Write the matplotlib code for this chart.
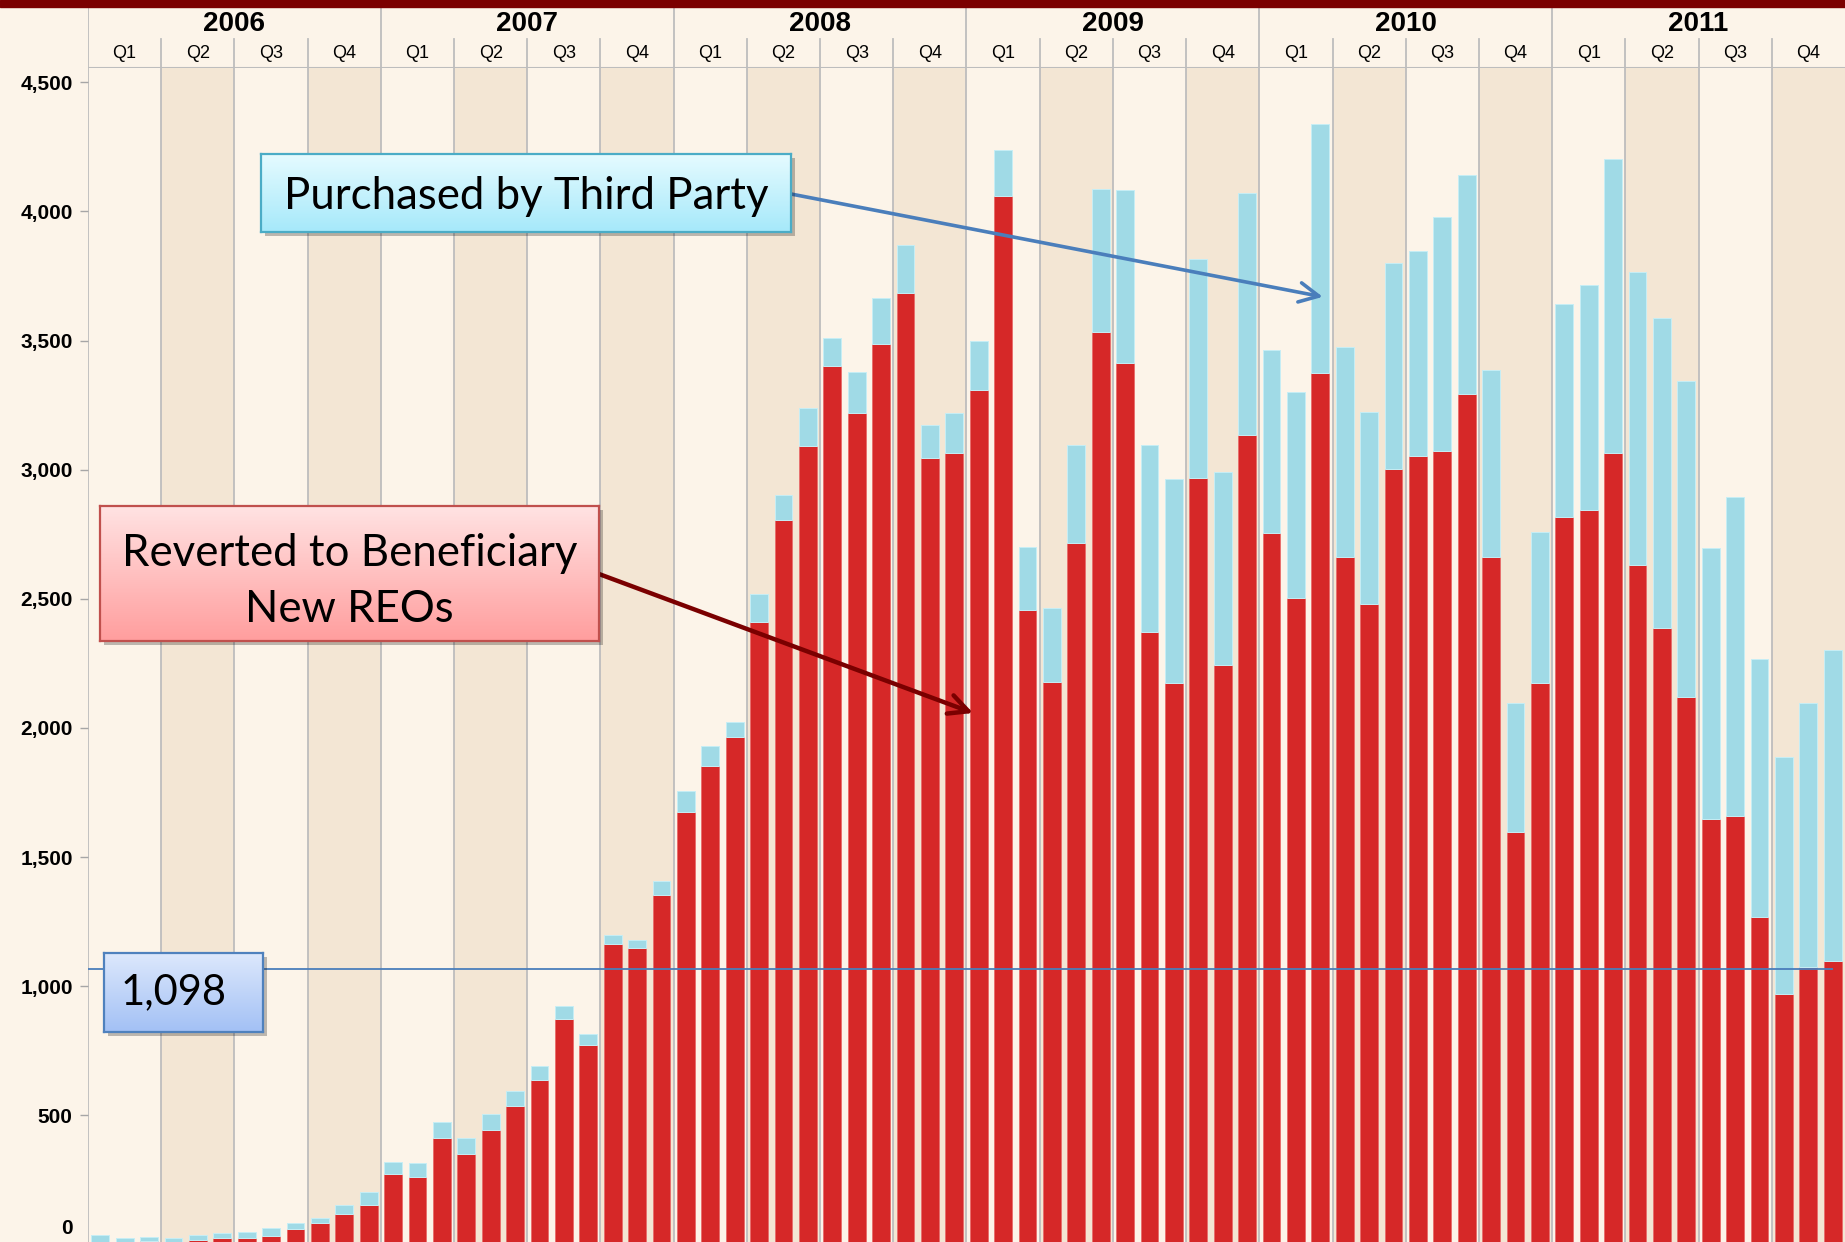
import matplotlib
matplotlib.use("Agg")
import matplotlib.pyplot as plt
import numpy as np
from matplotlib.colors import LinearSegmentedColormap
from matplotlib.patches import Rectangle

# monthly new REOs, Jan 2006 .. Dec 2011
years = ["2006", "2007", "2008", "2009", "2010", "2011"]
quarters = ["Q1", "Q2", "Q3", "Q4"]

reverted = [5, 2, 15, 2, 19, 26, 26, 32, 61, 84, 119, 154,
            274, 263, 413, 350, 443, 536, 639, 874, 772, 1163, 1148, 1352,
            1674, 1852, 1965, 2411, 2804, 3093, 3401, 3221, 3487, 3683, 3047, 3063,
            3307, 4061, 2456, 2179, 2718, 3533, 3412, 2370, 2173, 2966, 2243, 3135,
            2753, 2504, 3373, 2660, 2480, 3001, 3054, 3072, 3291, 2661, 1597, 2173,
            2817, 2845, 3065, 2630, 2387, 2120, 1646, 1658, 1270, 969, 1073, 1098]

purchased = [32, 24, 16, 24, 18, 17, 23, 34, 23, 18, 35, 51,
             47, 52, 60, 63, 64, 58, 53, 48, 45, 37, 32, 57,
             82, 78, 57, 108, 98, 145, 110, 156, 178, 186, 126, 158,
             191, 178, 244, 284, 376, 554, 671, 724, 789, 851, 747, 937,
             712, 798, 965, 816, 745, 798, 791, 907, 851, 723, 501, 584,
             826, 868, 1139, 1135, 1200, 1223, 1052, 1238, 996, 917, 1025, 1202]

y_ticks = [500, 1000, 1500, 2000, 2500, 3000, 3500, 4000, 4500]
marker_value = 1065
marker_label = "1,098"

# colours
light = "#FCF4E9"
dark = "#F3E6D4"
grid = "#BDBDBD"
red = "#D62828"
blue = "#A0DAE6"

narrow = ["Liberation Sans Narrow", "Liberation Sans", "DejaVu Sans"]
callout = ["Lato", "DejaVu Sans"]

W, H = 1845, 1242
fig = plt.figure(figsize=(W / 100, H / 100), dpi=100, facecolor=light)


def px_rect(x0, y0, x1, y1):
    # pixel box measured from the top-left -> figure fraction rect
    return [x0 / W, 1 - y1 / H, (x1 - x0) / W, (y1 - y0) / H]


n = len(reverted)
x = np.arange(n)

# main plot
ax = fig.add_axes(px_rect(88, 68, W, H))
ax.set_facecolor(light)
for q in range(n // 3):
    ax.axvspan(3 * q - 0.5, 3 * q + 2.5, color=dark if q % 2 else light, lw=0, zorder=0)
    ax.axvline(3 * q - 0.5, color=grid, lw=1.3, zorder=1)

ax.bar(x, reverted, width=0.73, color=red, edgecolor="#E8706E", lw=0.7, zorder=2)
ax.bar(x, purchased, bottom=reverted, width=0.73, color=blue,
       edgecolor="#C6EEF5", lw=0.7, zorder=2)

ax.set_xlim(-0.5, n - 0.5)
ax.set_ylim(10, 4555)
for s in ax.spines.values():
    s.set_visible(False)
ax.tick_params(axis="x", bottom=False, labelbottom=False)
ax.set_yticks(y_ticks)
ax.set_yticklabels([f"{v:,}" for v in y_ticks], fontsize=15, fontweight="bold",
                   family=narrow)
ax.tick_params(axis="y", length=6, width=1, color="#A6A6A6", pad=5)
ax.annotate("0", xy=(0, 10), xycoords=ax.get_yaxis_transform(), xytext=(-11, 3),
            textcoords="offset points", ha="right", va="bottom", fontsize=15,
            fontweight="bold", family=narrow)

# 1,098 reference line
ax.hlines(marker_value, -0.5, n - 1, color="#4A7EBB", lw=1.3, zorder=3)

# arrows from callouts to bars
ax.annotate("", xy=(50.1, 3669), xycoords="data", xytext=(791, H - 194),
            textcoords="figure pixels",
            arrowprops=dict(arrowstyle="->, head_length=0.7, head_width=0.35",
                            color="#4A7EBB", lw=2.6, mutation_scale=20,
                            shrinkA=0, shrinkB=0), zorder=4)
ax.annotate("", xy=(35.77, 2058), xycoords="data", xytext=(599, H - 574),
            textcoords="figure pixels",
            arrowprops=dict(arrowstyle="->, head_length=0.7, head_width=0.35",
                            color="#7A0000", lw=3.2, mutation_scale=20,
                            shrinkA=0, shrinkB=0), zorder=4)

# header with years and quarters
hdr = fig.add_axes(px_rect(88, 0, W, 68))
hdr.set_xlim(-0.5, n - 0.5)
hdr.set_ylim(68, 0)
hdr.axis("off")
for k, yr in enumerate(years):
    hdr.text(12 * k + 5.5, 24, yr, ha="center", va="center", fontsize=20,
             fontweight="bold", family=narrow)
    hdr.plot([12 * k - 0.5] * 2, [8, 68], color=grid, lw=1.3)
for q in range(n // 3):
    hdr.text(3 * q + 1, 53, quarters[q % 4], ha="center", va="center",
             fontsize=13, family=narrow)
    if q % 4:
        hdr.plot([3 * q - 0.5] * 2, [39, 68], color=grid, lw=1.3)
hdr.plot([-0.5, n - 0.5], [67.5, 67.5], color=grid, lw=1.5)

fig.patches.append(Rectangle((0, 1 - 7 / H), 1, 7 / H, transform=fig.transFigure,
                             color="#7B0000", zorder=5))


def callout_box(x0, y0, x1, y1, top, bottom, edge, text, size, tx=0.5, ty=0.5):
    shadow = Rectangle(((x0 + 4) / W, 1 - (y1 + 4) / H), (x1 - x0) / W, (y1 - y0) / H,
                       transform=fig.transFigure, color="#000000", alpha=0.25,
                       lw=0, zorder=0.5)
    fig.patches.append(shadow)
    b = fig.add_axes(px_rect(x0, y0, x1, y1))
    b.set_zorder(1)
    cmap = LinearSegmentedColormap.from_list("g", [bottom, top])
    grad = np.linspace(0, 1, 100).reshape(-1, 1)
    b.imshow(grad, aspect="auto", cmap=cmap, origin="lower", extent=[0, 1, 0, 1])
    b.set_xticks([])
    b.set_yticks([])
    for s in b.spines.values():
        s.set_color(edge)
        s.set_linewidth(1.6)
    b.text(tx, ty, text, ha="center", va="center", fontsize=size,
           family=callout, linespacing=1.45, transform=b.transAxes)


callout_box(261, 154, 791, 232, "#E6FBFF", "#A6E9FA", "#4BACC6",
            "Purchased by Third Party", 31.5, ty=0.45)
callout_box(100, 506, 599, 641, "#FFE3E3", "#FF9E9E", "#C0504D",
            "Reverted to Beneficiary\nNew REOs", 31.5, ty=0.44)
callout_box(104, 953, 263, 1032, "#DDE8FC", "#A3C1F5", "#4F81BD",
            marker_label, 30, tx=0.44)

fig.savefig("out.png", dpi=100, facecolor=light)
